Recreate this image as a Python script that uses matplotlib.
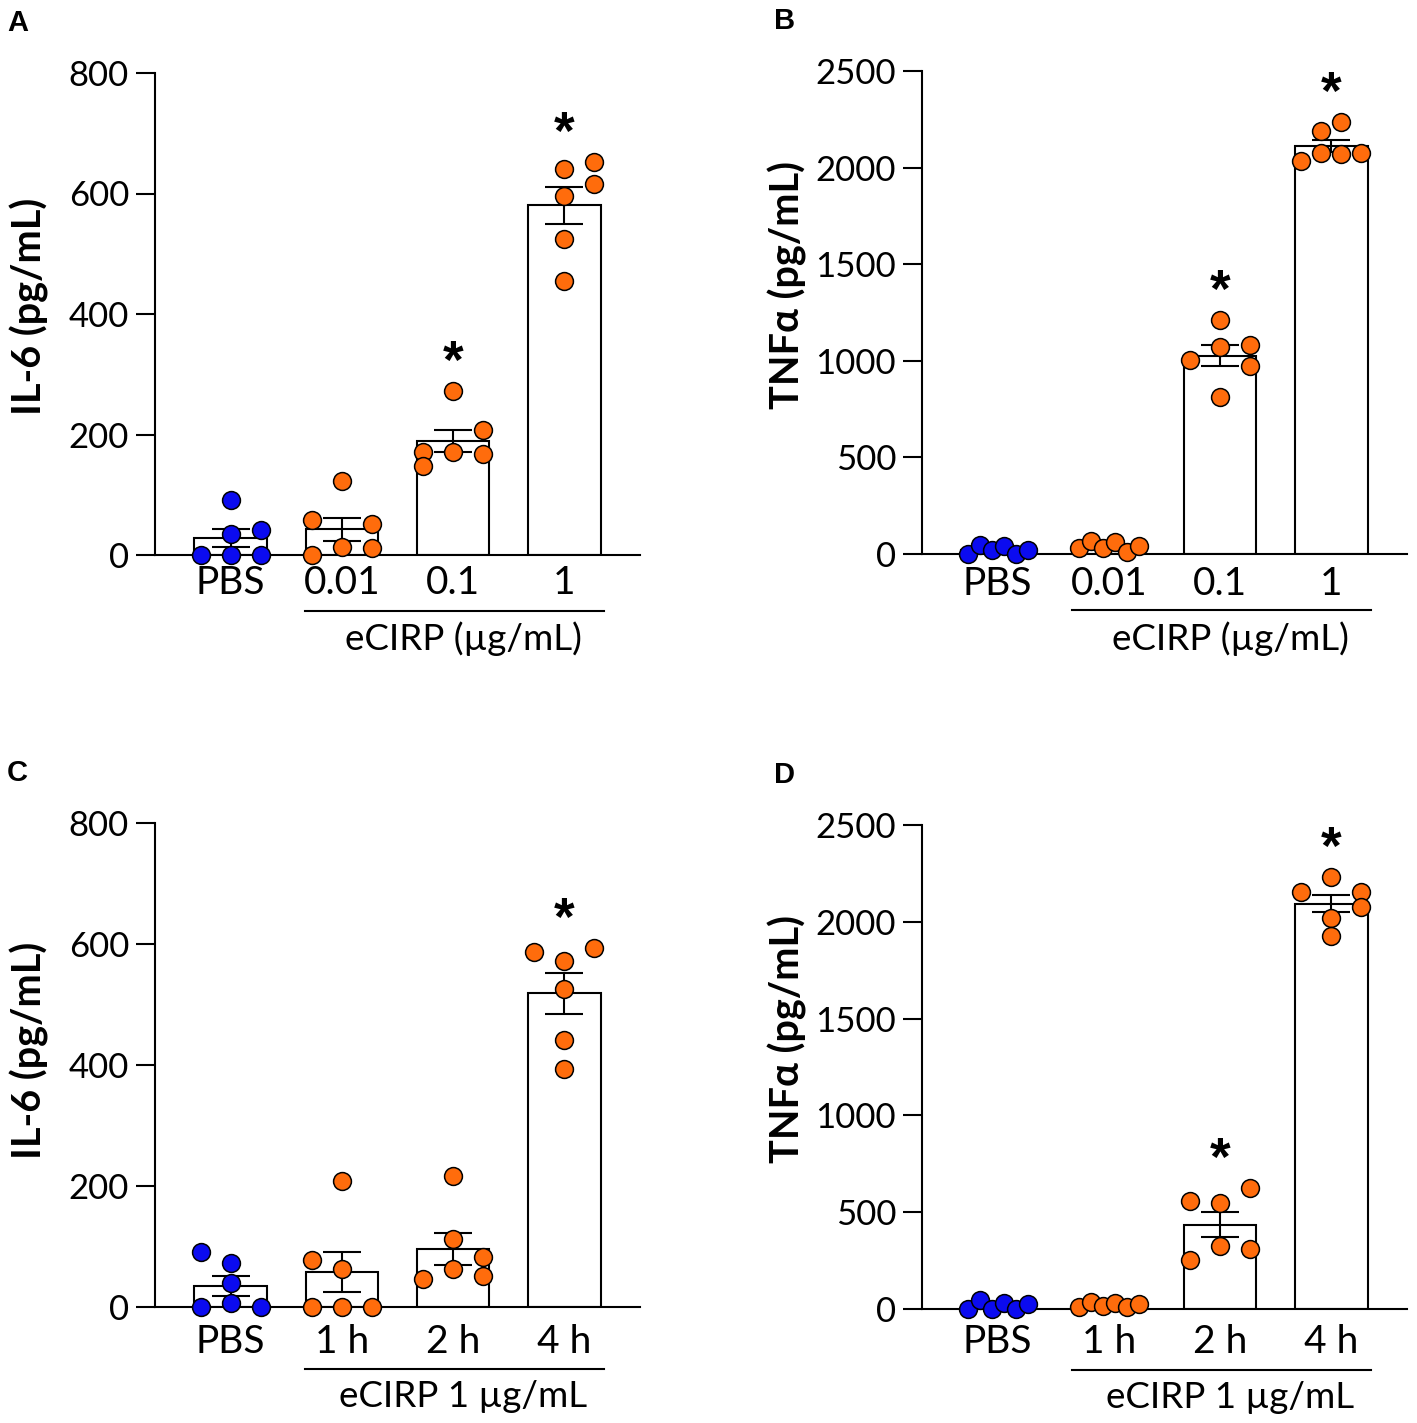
import numpy as np
import matplotlib.pyplot as plt

plt.rcParams['font.family'] = ['Lato', 'DejaVu Sans']

# %% DATA (pg/mL, n = 6 per group)
dose_labels = ["PBS", "0.01", "0.1", "1"]
time_labels = ["PBS", "1 h", "2 h", "4 h"]

il6_dose = [[0, 92, 35, 41, 0, 0],
            [58, 51, 122, 13, 11, 0],
            [272, 208, 171, 171, 168, 147],
            [652, 640, 615, 596, 524, 454]]
tnf_dose = [[0, 48, 22, 40, 0, 22],
            [31, 69, 31, 60, 9, 40],
            [1006, 1213, 1071, 1083, 971, 812],
            [2035, 2187, 2234, 2075, 2070, 2075]]
il6_time = [[91, 73, 40, 7, 0, 0],
            [78, 209, 63, 0, 0, 0],
            [217, 112, 83, 62, 51, 47],
            [586, 593, 572, 526, 441, 393]]
tnf_time = [[0, 46, 0, 29, 0, 24],
            [9, 38, 17, 33, 9, 26],
            [560, 546, 623, 325, 308, 253],
            [2156, 2230, 2156, 2075, 2018, 1929]]

stars_dose = [False, False, True, True]
stars_il6_time = [False, False, False, True]
stars_tnf_time = [False, False, True, True]

# %% LAYOUT: horizontal place of each dot in the swarm (fraction of the outer column)
row6 = [-1, -0.6, -0.2, 0.2, 0.6, 1]
dx_il6_dose = [[-1, 0, 0, 1, 0, 1], [-1, 1, 0, 0, 1, -1],
               [0, 1, -1, 0, 1, -1], [1, 0, 1, 0, 0, 0]]
dx_tnf_dose = [row6, row6, [-1, 0, 0, 1, 1, 0],
               [-1, -1/3, 1/3, -1/3, 1/3, 1]]
dx_il6_time = [[-1, 0, 0, 0, -1, 1], [-1, 0, 0, -1, 0, 1],
               [0, 0, 1, 0, 1, -1], [-1, 1, 0, 0, 0, 0]]
dx_tnf_time = [row6, row6, [-1, 0, 1, 0, 1, -1], [-1, 0, 1, 1, 0, 0]]

BLUE = '#0b0bf0'
ORANGE = '#ff6c0c'
W, H = 1417, 1423
PT = 0.72  # points per pixel at 100 dpi
COL = 0.27

fig = plt.figure(figsize=(W / 100, H / 100), dpi=100)


def panel(box, letter, labels, values, dx, stars, ymax, ystep, ylabel,
          ylab_xy, bracket_text, lab_off, br_off, txt_off):
    left, top, right, bottom = box
    ax = fig.add_axes([left / W, 1 - bottom / H, (right - left) / W, (bottom - top) / H])
    x = np.arange(len(labels))
    means = [np.mean(v) for v in values]
    sems = [np.std(v, ddof=1) / np.sqrt(len(v)) for v in values]

    ax.bar(x, means, width=0.65, color='white', edgecolor='black', linewidth=1.5, zorder=1)
    ax.errorbar(x, means, yerr=sems, fmt='none', ecolor='black', elinewidth=1.5,
                capsize=13.6, capthick=1.5, zorder=2)
    for i, v in enumerate(values):
        colour = BLUE if i == 0 else ORANGE
        xs = i + COL * np.array(dx[i])
        ax.scatter(xs, v, s=165, color=colour, edgecolor='black', linewidth=1.1,
                   zorder=3, clip_on=False)
        if stars[i]:
            ax.annotate('*', xy=(i, max(v)), xytext=(0, 27 * PT), textcoords='offset points',
                        ha='center', va='center', fontsize=38, fontweight='bold',
                        family='Liberation Sans')

    ax.set_xlim(-0.68, 3.68)
    ax.set_ylim(0, ymax)
    ax.set_yticks(np.arange(0, ymax + 1, ystep))
    ax.set_xticks([])
    ax.spines[['top', 'right']].set_visible(False)
    ax.spines[['left', 'bottom']].set_linewidth(1.5)
    ax.tick_params(axis='y', direction='out', length=13.7, width=1.5, pad=5, labelsize=25)

    for i, lab in enumerate(labels):
        ax.annotate(lab, xy=(i, 0), xycoords=('data', 'axes fraction'),
                    xytext=(0, -lab_off * PT), textcoords='offset points',
                    ha='center', va='baseline', fontsize=28)
    ax.plot([0.67, 3.36], [-br_off / (bottom - top)] * 2, color='black', linewidth=1.5,
            transform=ax.get_xaxis_transform(), clip_on=False)
    ax.annotate(bracket_text, xy=(2.09, 0), xycoords=('data', 'axes fraction'),
                xytext=(0, -txt_off * PT), textcoords='offset points',
                ha='center', va='baseline', fontsize=26.5)

    fig.text(ylab_xy[0] / W, 1 - ylab_xy[1] / H, ylabel, rotation=90, ha='center',
             va='center', fontsize=28.5, fontweight='bold')
    fig.text((left - 148) / W, 1 - (top - 64) / H, letter, ha='left', va='top',
             fontsize=21, fontweight='bold', family='Liberation Sans')
    return ax


panel((155, 73, 640, 555), 'A', dose_labels, il6_dose, dx_il6_dose, stars_dose,
      800, 200, 'IL-6 (pg/mL)', (29, 306), 'eCIRP (µg/mL)', 39, 56, 95)
panel((922, 71, 1407, 554), 'B', dose_labels, tnf_dose, dx_tnf_dose, stars_dose,
      2500, 500, 'TNFα (pg/mL)', (787, 285), 'eCIRP (µg/mL)', 41, 56, 96)
panel((155, 823, 640, 1307), 'C', time_labels, il6_time, dx_il6_time, stars_il6_time,
      800, 200, 'IL-6 (pg/mL)', (29, 1050), 'eCIRP 1 µg/mL', 46, 62, 100)
panel((922, 825, 1407, 1309), 'D', time_labels, tnf_time, dx_tnf_time, stars_tnf_time,
      2500, 500, 'TNFα (pg/mL)', (787, 1039), 'eCIRP 1 µg/mL', 44, 61, 99)

fig.savefig('out.png', dpi=100)
